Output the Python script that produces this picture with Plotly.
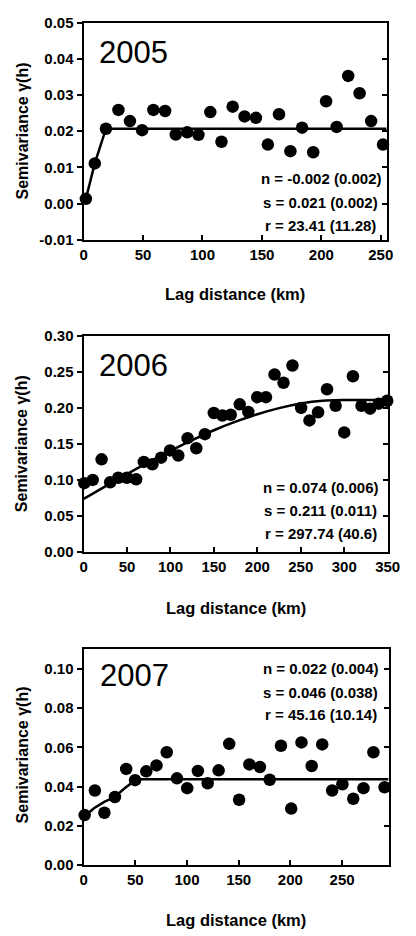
import plotly.graph_objects as go

# ---------------- data ----------------
lag_2005 = [1.9, 9.4, 18.8, 29.3, 39, 49.2, 58.7, 68.6, 77.5, 87.2, 96.6, 106.6, 116, 125.4, 135.4,
            145, 155, 164.4, 174, 183.8, 193.2, 204, 212.9, 222.6, 232.2, 241.9, 251.9]
gam_2005 = [0.0013, 0.0111, 0.0207, 0.0259, 0.0228, 0.0203, 0.0259, 0.0256, 0.0191, 0.0197, 0.019,
            0.0253, 0.0171, 0.0268, 0.0241, 0.0237, 0.0163, 0.0247, 0.0145, 0.021, 0.0142, 0.0283,
            0.0212, 0.0353, 0.0305, 0.0228, 0.0163]
model_x_2005 = [1.9, 9.4, 18.8, 255]
model_y_2005 = [0.0013, 0.0111, 0.0207, 0.0207]

lag_2006 = [0.8, 10.5, 20.7, 30.6, 39.9, 49.8, 60.5, 69.3, 79.2, 89.2, 99.5, 109, 119.7, 129.7,
            139.6, 149.9, 159.8, 169.4, 179.7, 189.6, 199.9, 209.9, 219.8, 230.1, 240.4, 250.4,
            260, 269.9, 280.2, 290.1, 300, 310, 319.9, 329.8, 339.7, 349.5]
gam_2006 = [0.0955, 0.1, 0.1286, 0.0968, 0.103, 0.103, 0.101, 0.125, 0.1218, 0.131, 0.141, 0.134,
            0.158, 0.144, 0.1636, 0.193, 0.1895, 0.1905, 0.205, 0.1945, 0.215, 0.215, 0.2464,
            0.235, 0.259, 0.200, 0.1827, 0.194, 0.226, 0.203, 0.166, 0.244, 0.203, 0.199, 0.206, 0.21]
model_x_2006 = [0, 25, 50, 75, 100, 125, 150, 175, 200, 225, 250, 275, 300, 350]
model_y_2006 = [0.0736, 0.0912, 0.1082, 0.1247, 0.1404, 0.1552, 0.169, 0.1809, 0.1913, 0.1998,
                0.2061, 0.2099, 0.211, 0.211]

lag_2007 = [1, 10.9, 20.1, 30.3, 41.2, 49.8, 60.6, 70.5, 80.4, 90.3, 100.2, 110.5, 120, 130.6, 140.8,
            150.4, 160.3, 170.5, 180, 190.9, 200.8, 210.7, 220.6, 230.8, 240.4, 250.3, 260.8,
            270.7, 280.3, 291.1]
gam_2007 = [0.0255, 0.038, 0.0267, 0.0347, 0.049, 0.0433, 0.0478, 0.0508, 0.0575, 0.0442, 0.0392,
            0.048, 0.0417, 0.0483, 0.0618, 0.0333, 0.0513, 0.05, 0.0435, 0.0608, 0.0288, 0.0625,
            0.0505, 0.0615, 0.038, 0.0412, 0.0338, 0.0392, 0.0575, 0.0397]
model_x_2007 = [1, 10, 20, 30, 40, 50, 55, 295]
model_y_2007 = [0.0249, 0.029, 0.0322, 0.0347, 0.0393, 0.0433, 0.0437, 0.0437]

years = ["2005", "2006", "2007"]
params = [
    ["n = -0.002 (0.002)", "s = 0.021 (0.002)", "r = 23.41 (11.28)"],
    ["n = 0.074 (0.006)", "s = 0.211 (0.011)", "r = 297.74 (40.6)"],
    ["n = 0.022 (0.004)", "s = 0.046 (0.038)", "r = 45.16 (10.14)"],
]
xticks = [[0, 50, 100, 150, 200, 250],
          [0, 50, 100, 150, 200, 250, 300, 350],
          [0, 50, 100, 150, 200, 250]]
yticks = [[-0.01, 0.0, 0.01, 0.02, 0.03, 0.04, 0.05],
          [0.0, 0.05, 0.10, 0.15, 0.20, 0.25, 0.30],
          [0.0, 0.02, 0.04, 0.06, 0.08, 0.10]]
ytick_text = [["-0.01", "0.00", "0.01", "0.02", "0.03", "0.04", "0.05"],
              ["0.00", "0.05", "0.10", "0.15", "0.20", "0.25", "0.30"],
              ["0.00", "0.02", "0.04", "0.06", "0.08", "0.10"]]
x_title = "Lag distance (km)"
y_title = "Semivariance γ(h)"

# ---------------- layout geometry ----------------
W, H = 416, 936
xranges = [[0, 255], [0, 350], [0, 295]]
yranges = [[-0.01, 0.05], [0, 0.30], [0, 0.11]]
frames = [  # left, right, top, bottom in pixels
    (83, 399, 14, 235),
    (83, 400, 333, 553),
    (83, 401, 652, 872),
]
year_pos = [(97, 44), (97, 363), (98, 679)]
param_y = [[173, 197, 221], [487, 511, 534], [672, 696, 719]]
param_x = 330
xtitle_y = [290, 610, 928]
ytitle_y = [124.5, 443, 760]

FONT = "Liberation Sans, Arial, sans-serif"
def px_x(p): return p / W
def px_y(p): return 1 - p / H

fig = go.Figure()
lags = [lag_2005, lag_2006, lag_2007]
gams = [gam_2005, gam_2006, gam_2007]
mxs = [model_x_2005, model_x_2006, model_x_2007]
mys = [model_y_2005, model_y_2006, model_y_2007]
shapes_line = ["linear", "spline", "linear"]

layout = dict(width=W, height=H, margin=dict(l=0, r=0, t=0, b=0),
              paper_bgcolor="white", plot_bgcolor="white", showlegend=False)
annotations = []
for i in range(3):
    xa = "x" if i == 0 else f"x{i+1}"
    ya = "y" if i == 0 else f"y{i+1}"
    yo = f"y{i+4}"
    fig.add_trace(go.Scatter(x=mxs[i], y=mys[i], mode="lines", xaxis=xa, yaxis=ya,
                             line=dict(color="black", width=2.5, shape=shapes_line[i]),
                             hoverinfo="skip", cliponaxis=True))
    fig.add_trace(go.Scatter(x=lags[i], y=gams[i], mode="markers", xaxis=xa, yaxis=ya,
                             marker=dict(color="black", size=12.5), cliponaxis=False))
    fig.add_trace(go.Scatter(x=[], y=[], xaxis=xa, yaxis=yo, mode="markers"))
    l, r, t, b = frames[i]
    tickfont = dict(family=FONT, size=15, color="black", weight="bold")
    layout["xaxis" if i == 0 else f"xaxis{i+1}"] = dict(
        domain=[px_x(l), px_x(r)], anchor=ya, range=xranges[i], tickvals=xticks[i],
        ticks="inside", ticklen=5, tickwidth=1.5, tickcolor="black",
        showline=True, linewidth=2.2, linecolor="black", mirror=True,
        showgrid=False, zeroline=False, tickfont=tickfont, fixedrange=True)
    layout["yaxis" if i == 0 else f"yaxis{i+1}"] = dict(
        domain=[px_y(b), px_y(t)], anchor=xa, range=yranges[i], tickvals=yticks[i],
        ticktext=ytick_text[i], ticks="outside", ticklen=5, tickwidth=1.5, tickcolor="black",
        showline=True, linewidth=2.2, linecolor="black", mirror=True,
        showgrid=False, zeroline=False, tickfont=tickfont, fixedrange=True)
    layout[f"yaxis{i+4}"] = dict(
        overlaying=ya, side="right", anchor=xa, range=yranges[i], tickvals=yticks[i],
        ticks="inside", ticklen=5, tickwidth=1.5, tickcolor="black", showticklabels=False,
        showline=False, showgrid=False, zeroline=False, fixedrange=True)
    # year label
    annotations.append(dict(text=years[i], xref="paper", yref="paper",
                            x=px_x(year_pos[i][0]), y=px_y(year_pos[i][1]),
                            xanchor="left", yanchor="middle", showarrow=False,
                            font=dict(family=FONT, size=31, color="black")))
    for j in range(3):
        annotations.append(dict(text=params[i][j], xref="paper", yref="paper",
                                x=px_x(param_x), y=px_y(param_y[i][j]),
                                xanchor="center", yanchor="middle", showarrow=False,
                                font=dict(family=FONT, size=15, color="black", weight="bold")))
    annotations.append(dict(text=x_title, xref="paper", yref="paper",
                            x=px_x((l + r) / 2), y=px_y(xtitle_y[i]),
                            xanchor="center", yanchor="middle", showarrow=False,
                            font=dict(family=FONT, size=16.5, color="black", weight="bold")))
    annotations.append(dict(text=y_title, xref="paper", yref="paper",
                            x=px_x(19), y=px_y(ytitle_y[i]), textangle=-90,
                            xanchor="center", yanchor="middle", showarrow=False,
                            font=dict(family=FONT, size=16, color="black", weight="bold")))

layout["annotations"] = annotations
fig.update_layout(**layout)
fig.write_html("out.html")
